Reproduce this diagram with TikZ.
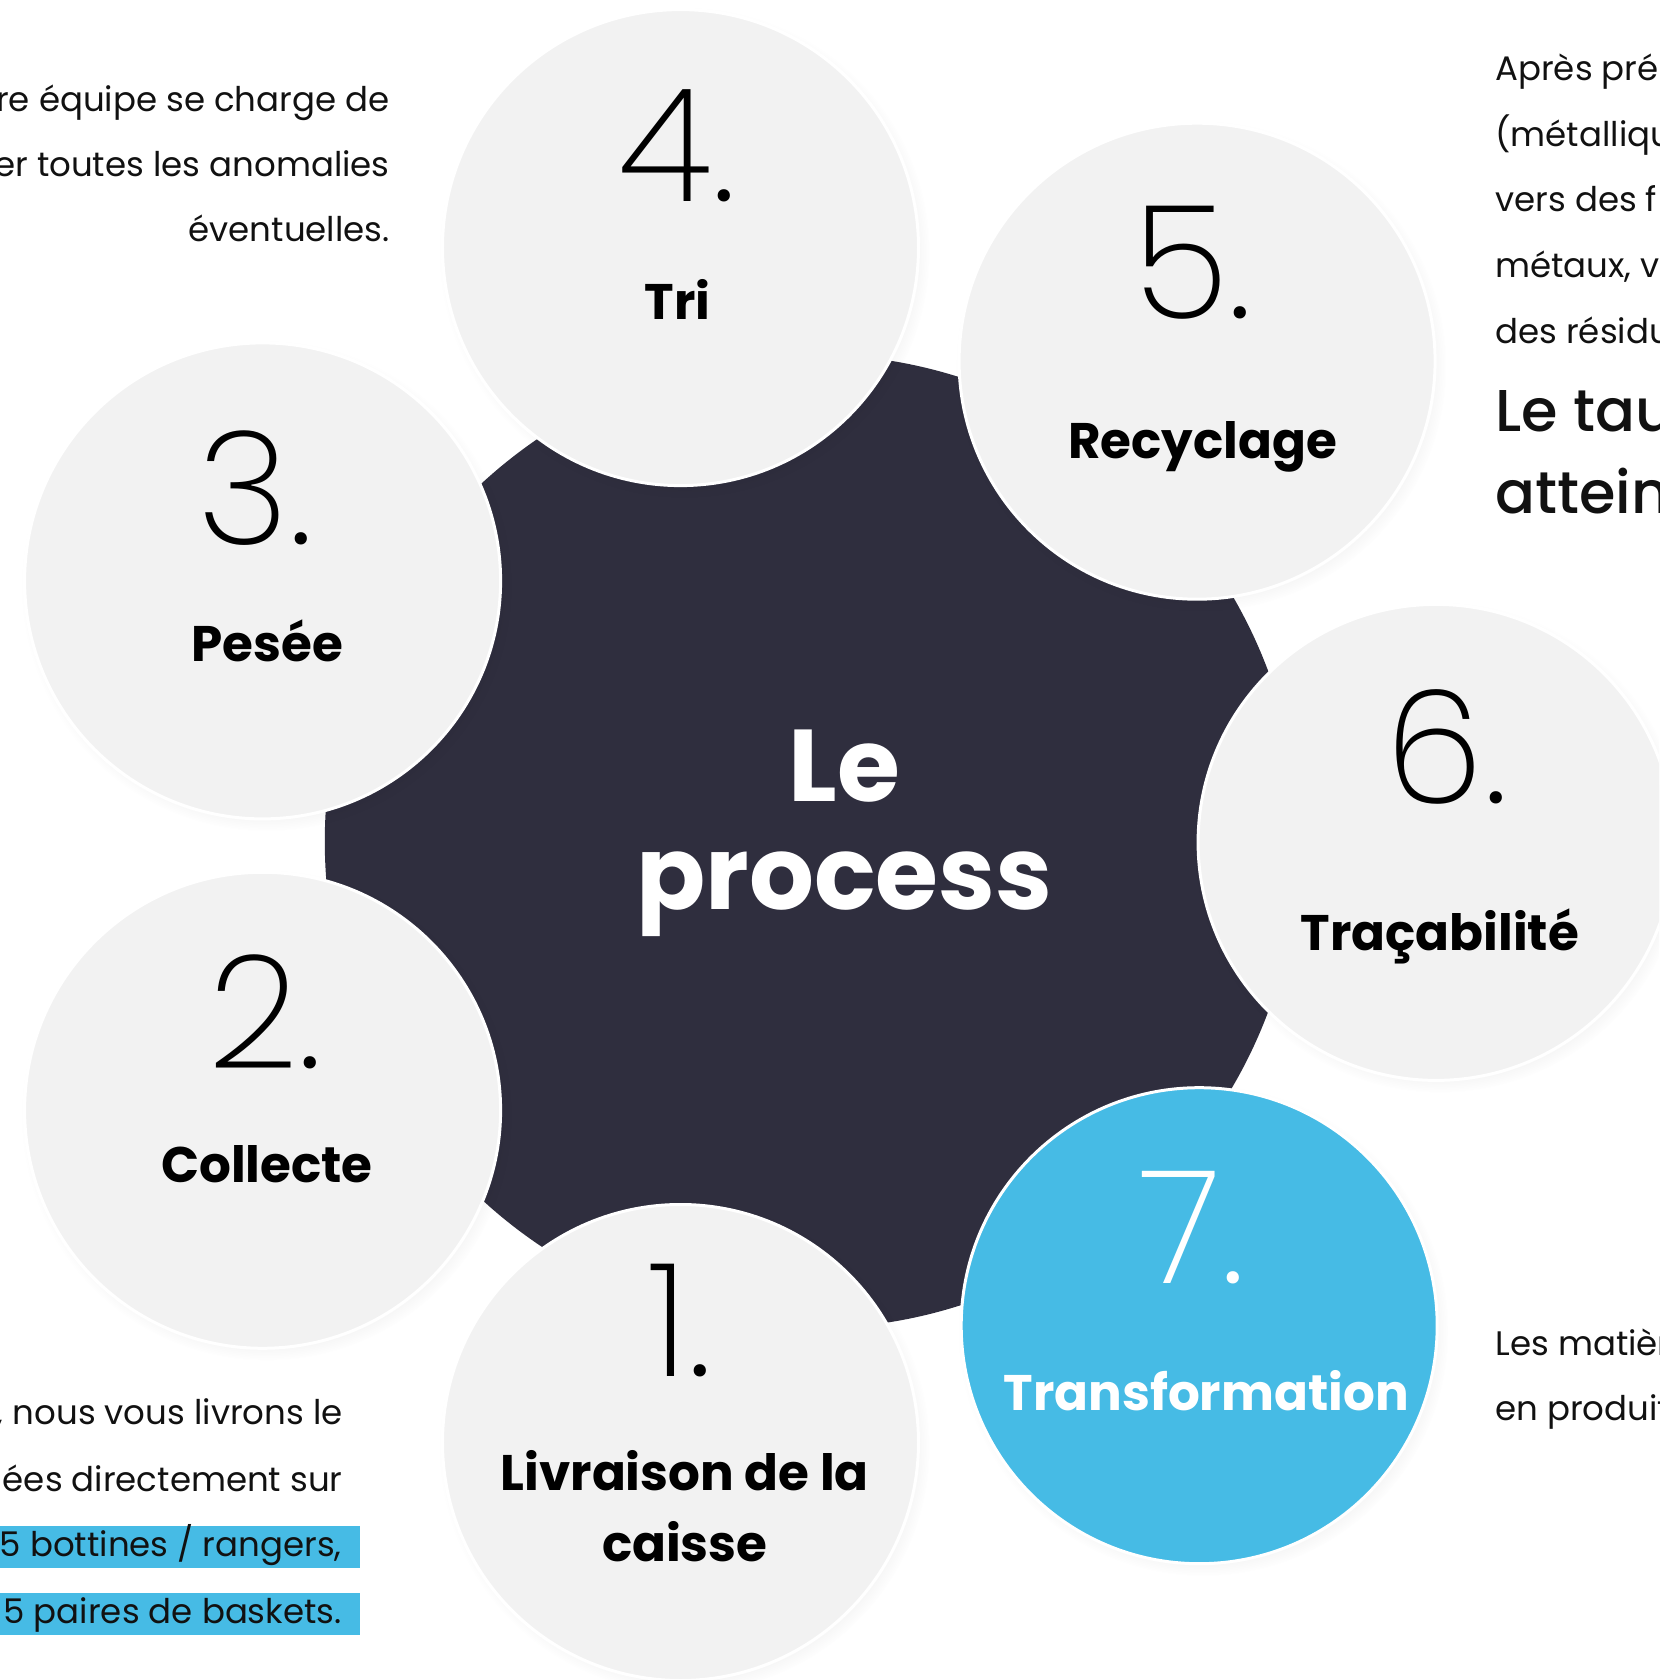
\documentclass[tikz,border=0pt]{standalone}
\usepackage{fontspec}
\setmainfont{Poppins}
\IfFontExistsTF{Poppins ExtraLight}{\newfontfamily\thinfont{Poppins ExtraLight}}{\newfontfamily\thinfont{Poppins}}
\IfFontExistsTF{Poppins Medium}{\newfontfamily\midfont{Poppins Medium}}{\newfontfamily\midfont{Poppins}}
\usetikzlibrary{shapes,calc,positioning,shadows}
\definecolor{inkdark}{HTML}{2F2E3E}
\definecolor{pale}{HTML}{F2F2F2}
\definecolor{sky}{HTML}{46BBE5}
\definecolor{copy}{HTML}{111111}
\tikzset{
    hub/.style = {circle, fill=inkdark, minimum size=487pt, inner sep=0pt},
    hubtext/.style = {anchor=base, inner sep=0pt, text=white,
        font=\bfseries\fontsize{51}{51}\selectfont},
    stepdisc/.style = {circle, fill=pale, draw=white, line width=1.5pt,
        minimum size=238pt, inner sep=0pt,
        circular drop shadow={shadow xshift=2pt, shadow yshift=-2.5pt,
            shadow scale=1.03, opacity=0.09, fill=black}},
    stepnum/.style = {anchor=base, inner sep=0pt,
        font=\thinfont\fontsize{79}{79}\selectfont},
    steplabel/.style = {anchor=base, inner sep=0pt,
        font=\bfseries\fontsize{25}{25}\selectfont},
    para/.style = {inner sep=0pt, text=copy, font=\fontsize{17}{17}\selectfont},
    bigpara/.style = {inner sep=0pt, text=copy, font=\midfont\fontsize{29.5}{29.5}\selectfont},
    marked/.style = {fill=sky, inner xsep=9pt, inner ysep=0pt,
        text height=15pt, text depth=6pt},
}
\begin{document}
\begin{tikzpicture}[x=0.5pt, y=0.5pt]
    % page frame
    \useasboundingbox (-818.8,-836.6) rectangle (840.2,843.4);
    \clip (-818.8,-836.6) rectangle (840.2,843.4);
    % centre of the ring
    \coordinate (ring) at (0,0);

    % dark hub and its title
    \node [hub] (hub) at (-7,2) {};
    \node [hubtext] (hubLe) at (25.7,41.7) {Le};
    \node [hubtext] (hubProcess) at (25.7,-66.6) {process};

    % the seven steps
    \node [stepdisc] (livraison) at (-138.3,-599.1) {};
    \node [stepdisc] (collecte) at (-556.2,-266.9) {};
    \node [stepdisc] (pesee) at (-556.2,262.5) {};
    \node [stepdisc] (tri) at (-138.3,595.8) {};
    \node [stepdisc] (recyclage) at (378.3,482.2) {};
    \node [stepdisc] (tracabilite) at (617.3,1.0) {};
    \node [stepdisc, fill=sky] (transfo) at (380.4,-482.3) {};

    % step 1
    \node [stepnum] (num1) at ($(livraison)+(-0.5,65.8)$) {1.};
    \node [steplabel] (lab1a) at ($(livraison)+(4.3,-47.5)$) {Livraison de la};
    \node [steplabel] (lab1b) at ($(livraison)+(4.3,-119.2)$) {caisse};
    % step 2
    \node [stepnum] (num2) at ($(collecte)+(2.6,41.8)$) {2.};
    \node [steplabel] (lab2) at ($(collecte)+(4.3,-71.8)$) {Collecte};
    % step 3
    \node [stepnum] (num3) at ($(pesee)+(-7.6,36.5)$) {3.};
    \node [steplabel] (lab3) at ($(pesee)+(4.8,-80.3)$) {Pesée};
    % step 4
    \node [stepnum] (num4) at ($(tri)+(-3.2,45.9)$) {4.};
    \node [steplabel] (lab4) at ($(tri)+(-3,-72.4)$) {Tri};
    % step 5
    \node [stepnum] (num5) at ($(recyclage)+(-4.3,42.9)$) {5.};
    \node [steplabel] (lab5) at ($(recyclage)+(5.4,-97.5)$) {Recyclage};
    % step 6
    \node [stepnum] (num6) at ($(tracabilite)+(10.7,38.4)$) {6.};
    \node [steplabel] (lab6) at ($(tracabilite)+(3.7,-107.6)$) {Traçabilité};
    % step 7
    \node [stepnum, text=white] (num7) at ($(transfo)+(-6.9,42.7)$) {7.};
    \node [steplabel, text=white] (lab7) at ($(transfo)+(7,-84.3)$) {Transformation};

    % text top left
    \node [para, anchor=base east] (tl1) at (-428.8,731.4) {re équipe se charge de};
    \node [para, anchor=base east] (tl2) at (-428.8,666.4) {er toutes les anomalies};
    \node [para, anchor=base east] (tl3) at (-428.8,601.4) {éventuelles.};

    % text top right
    \node [para, anchor=base west] (tr1) at (676.2,762.9) {Après pré};
    \node [para, anchor=base west] (tr2) at (676.2,696.4) {(métalliqu};
    \node [para, anchor=base west] (tr3) at (676.2,631.4) {vers des f};
    \node [para, anchor=base west] (tr4) at (676.2,565.4) {métaux, v};
    \node [para, anchor=base west] (tr5) at (676.2,499.4) {des résidu};
    \node [bigpara, anchor=base west] (tr6) at (676.2,411.4) {Le tau};
    \node [bigpara, anchor=base west] (tr7) at (676.2,329.4) {attein};

    % text bottom right
    \node [para, anchor=base west] (br1) at (676.2,-511.6) {Les matièr};
    \node [para, anchor=base west] (br2) at (676.2,-576.6) {en produit};

    % text bottom left
    \node [para, anchor=base east] (bl1) at (-475.8,-580.6) {, nous vous livrons le};
    \node [para, anchor=base east] (bl2) at (-475.8,-647.6) {lées directement sur};
    \node [para, marked, anchor=base east] (bl3) at (-458.8,-712.6) {\hspace*{60pt}5 bottines / rangers,};
    \node [para, marked, anchor=base east] (bl4) at (-458.8,-779.6) {\hspace*{60pt}5 paires de baskets.};
\end{tikzpicture}
\end{document}
